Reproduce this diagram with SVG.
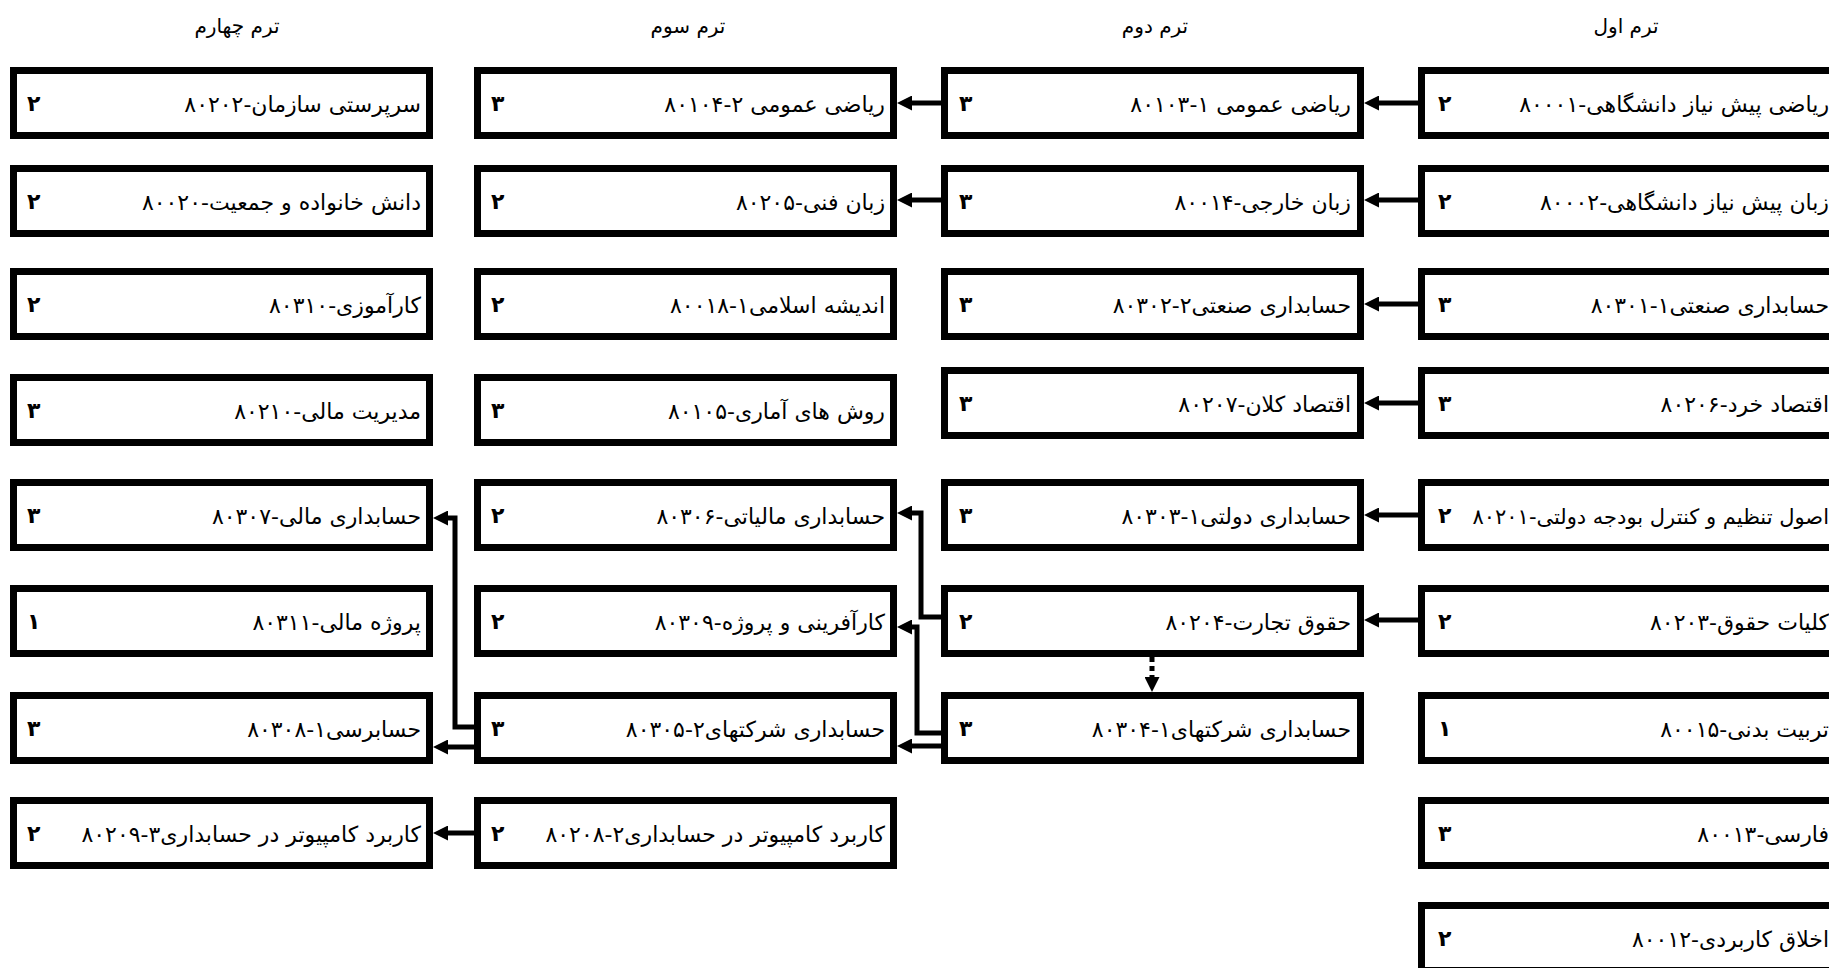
<svg xmlns="http://www.w3.org/2000/svg" width="1829" height="968" viewBox="0 0 1829 968">
<style>
.box{fill:#fff;stroke:#000;stroke-width:7}
.lbl{font-family:"DejaVu Sans",sans-serif;font-size:22px;text-anchor:end;fill:#000}
.cr{font-family:"DejaVu Sans",sans-serif;font-size:22px;font-weight:bold;fill:#000}
.hdr{font-family:"DejaVu Sans",sans-serif;font-size:20px;text-anchor:middle;fill:#000}
.conn{fill:none;stroke:#000;stroke-width:5;stroke-linejoin:miter}
.dot{stroke-dasharray:5 4}
</style>
<defs>
<marker id="arr" viewBox="0 0 15 15" refX="0" refY="7.5" markerWidth="15" markerHeight="15" markerUnits="userSpaceOnUse" orient="auto">
<path d="M0,0 L15,7.5 L0,15 z" fill="#000"/>
</marker>
</defs>
<rect width="1829" height="968" fill="#fff"/>
<g id="headers">
<text class="hdr" x="1626" y="33">ترم اول</text>
<text class="hdr" x="1155" y="33">ترم دوم</text>
<text class="hdr" x="688" y="33">ترم سوم</text>
<text class="hdr" x="237" y="33">ترم چهارم</text>
</g>
<g id="c1r1"><rect class="box" x="1421.5" y="70.5" width="416" height="65"/><text class="lbl" x="1829" y="112">ریاضی پیش نیاز دانشگاهی-۸۰۰۰۱</text><text class="cr" x="1438" y="111">۲</text></g>
<g id="c1r2"><rect class="box" x="1421.5" y="168.5" width="416" height="65"/><text class="lbl" x="1829" y="210">زبان پیش نیاز دانشگاهی-۸۰۰۰۲</text><text class="cr" x="1438" y="209">۲</text></g>
<g id="c1r3"><rect class="box" x="1421.5" y="271.5" width="416" height="65"/><text class="lbl" x="1829" y="313">حسابداری صنعتی۱&#x200F;-&#x200F;۸۰۳۰۱</text><text class="cr" x="1438" y="312">۳</text></g>
<g id="c1r4"><rect class="box" x="1421.5" y="370.5" width="416" height="65"/><text class="lbl" x="1829" y="412">اقتصاد خرد-۸۰۲۰۶</text><text class="cr" x="1438" y="411">۳</text></g>
<g id="c1r5"><rect class="box" x="1421.5" y="482.5" width="416" height="65"/><text class="lbl" x="1829" y="524" style="font-size:21px">اصول تنظیم و کنترل بودجه دولتی-۸۰۲۰۱</text><text class="cr" x="1438" y="523">۲</text></g>
<g id="c1r6"><rect class="box" x="1421.5" y="588.5" width="416" height="65"/><text class="lbl" x="1829" y="630">کلیات حقوق-۸۰۲۰۳</text><text class="cr" x="1438" y="629">۲</text></g>
<g id="c1r7"><rect class="box" x="1421.5" y="695.5" width="416" height="65"/><text class="lbl" x="1829" y="737">تربیت بدنی-۸۰۰۱۵</text><text class="cr" x="1438" y="736">۱</text></g>
<g id="c1r8"><rect class="box" x="1421.5" y="800.5" width="416" height="65"/><text class="lbl" x="1829" y="842">فارسی-۸۰۰۱۳</text><text class="cr" x="1438" y="841">۳</text></g>
<g id="c1r9"><rect class="box" x="1421.5" y="905.5" width="416" height="65"/><text class="lbl" x="1829" y="947">اخلاق کاربردی-۸۰۰۱۲</text><text class="cr" x="1438" y="946">۲</text></g>
<g id="c2r1"><rect class="box" x="944.5" y="70.5" width="416" height="65"/><text class="lbl" x="1351" y="112">ریاضی عمومی ۱&#x200F;-&#x200F;۸۰۱۰۳</text><text class="cr" x="959" y="111">۳</text></g>
<g id="c2r2"><rect class="box" x="944.5" y="168.5" width="416" height="65"/><text class="lbl" x="1351" y="210">زبان خارجی-۸۰۰۱۴</text><text class="cr" x="959" y="209">۳</text></g>
<g id="c2r3"><rect class="box" x="944.5" y="271.5" width="416" height="65"/><text class="lbl" x="1351" y="313">حسابداری صنعتی۲&#x200F;-&#x200F;۸۰۳۰۲</text><text class="cr" x="959" y="312">۳</text></g>
<g id="c2r4"><rect class="box" x="944.5" y="370.5" width="416" height="65"/><text class="lbl" x="1351" y="412">اقتصاد کلان-۸۰۲۰۷</text><text class="cr" x="959" y="411">۳</text></g>
<g id="c2r5"><rect class="box" x="944.5" y="482.5" width="416" height="65"/><text class="lbl" x="1351" y="524">حسابداری دولتی۱&#x200F;-&#x200F;۸۰۳۰۳</text><text class="cr" x="959" y="523">۳</text></g>
<g id="c2r6"><rect class="box" x="944.5" y="588.5" width="416" height="65"/><text class="lbl" x="1351" y="630">حقوق تجارت-۸۰۲۰۴</text><text class="cr" x="959" y="629">۲</text></g>
<g id="c2r7"><rect class="box" x="944.5" y="695.5" width="416" height="65"/><text class="lbl" x="1351" y="737">حسابداری شرکتهای۱&#x200F;-&#x200F;۸۰۳۰۴</text><text class="cr" x="959" y="736">۳</text></g>
<g id="c3r1"><rect class="box" x="477.5" y="70.5" width="416" height="65"/><text class="lbl" x="885" y="112">ریاضی عمومی ۲&#x200F;-&#x200F;۸۰۱۰۴</text><text class="cr" x="491" y="111">۳</text></g>
<g id="c3r2"><rect class="box" x="477.5" y="168.5" width="416" height="65"/><text class="lbl" x="885" y="210">زبان فنی-۸۰۲۰۵</text><text class="cr" x="491" y="209">۲</text></g>
<g id="c3r3"><rect class="box" x="477.5" y="271.5" width="416" height="65"/><text class="lbl" x="885" y="313">اندیشه اسلامی۱&#x200F;-&#x200F;۸۰۰۱۸</text><text class="cr" x="491" y="312">۲</text></g>
<g id="c3r4"><rect class="box" x="477.5" y="377.5" width="416" height="65"/><text class="lbl" x="885" y="419">روش های آماری-۸۰۱۰۵</text><text class="cr" x="491" y="418">۳</text></g>
<g id="c3r5"><rect class="box" x="477.5" y="482.5" width="416" height="65"/><text class="lbl" x="885" y="524">حسابداری مالیاتی-۸۰۳۰۶</text><text class="cr" x="491" y="523">۲</text></g>
<g id="c3r6"><rect class="box" x="477.5" y="588.5" width="416" height="65"/><text class="lbl" x="885" y="630">کارآفرینی و پروژه-۸۰۳۰۹</text><text class="cr" x="491" y="629">۲</text></g>
<g id="c3r7"><rect class="box" x="477.5" y="695.5" width="416" height="65"/><text class="lbl" x="885" y="737">حسابداری شرکتهای۲&#x200F;-&#x200F;۸۰۳۰۵</text><text class="cr" x="491" y="736">۳</text></g>
<g id="c3r8"><rect class="box" x="477.5" y="800.5" width="416" height="65"/><text class="lbl" x="885" y="842">کاربرد کامپیوتر در حسابداری۲&#x200F;-&#x200F;۸۰۲۰۸</text><text class="cr" x="491" y="841">۲</text></g>
<g id="c4r1"><rect class="box" x="13.5" y="70.5" width="416" height="65"/><text class="lbl" x="421" y="112">سرپرستی سازمان-۸۰۲۰۲</text><text class="cr" x="27" y="111">۲</text></g>
<g id="c4r2"><rect class="box" x="13.5" y="168.5" width="416" height="65"/><text class="lbl" x="421" y="210">دانش خانواده و جمعیت-۸۰۰۲۰</text><text class="cr" x="27" y="209">۲</text></g>
<g id="c4r3"><rect class="box" x="13.5" y="271.5" width="416" height="65"/><text class="lbl" x="421" y="313">کارآموزی-۸۰۳۱۰</text><text class="cr" x="27" y="312">۲</text></g>
<g id="c4r4"><rect class="box" x="13.5" y="377.5" width="416" height="65"/><text class="lbl" x="421" y="419">مدیریت مالی-۸۰۲۱۰</text><text class="cr" x="27" y="418">۳</text></g>
<g id="c4r5"><rect class="box" x="13.5" y="482.5" width="416" height="65"/><text class="lbl" x="421" y="524">حسابداری مالی-۸۰۳۰۷</text><text class="cr" x="27" y="523">۳</text></g>
<g id="c4r6"><rect class="box" x="13.5" y="588.5" width="416" height="65"/><text class="lbl" x="421" y="630">پروژه مالی-۸۰۳۱۱</text><text class="cr" x="27" y="629">۱</text></g>
<g id="c4r7"><rect class="box" x="13.5" y="695.5" width="416" height="65"/><text class="lbl" x="421" y="737">حسابرسی۱&#x200F;-&#x200F;۸۰۳۰۸</text><text class="cr" x="27" y="736">۳</text></g>
<g id="c4r8"><rect class="box" x="13.5" y="800.5" width="416" height="65"/><text class="lbl" x="421" y="842">کاربرد کامپیوتر در حسابداری۳&#x200F;-&#x200F;۸۰۲۰۹</text><text class="cr" x="27" y="841">۲</text></g>
<g id="connectors">
<path class="conn" marker-end="url(#arr)" d="M1418,103 H1379"/>
<path class="conn" marker-end="url(#arr)" d="M941,103 H912"/>
<path class="conn" marker-end="url(#arr)" d="M1418,200 H1379"/>
<path class="conn" marker-end="url(#arr)" d="M941,200 H912"/>
<path class="conn" marker-end="url(#arr)" d="M1418,304 H1379"/>
<path class="conn" marker-end="url(#arr)" d="M1418,403 H1379"/>
<path class="conn" marker-end="url(#arr)" d="M1418,515 H1379"/>
<path class="conn" marker-end="url(#arr)" d="M1418,620 H1379"/>
<path class="conn" marker-end="url(#arr)" d="M941,617 H921 V513 H912"/>
<path class="conn" marker-end="url(#arr)" d="M941,733 H917 V627 H912"/>
<path class="conn" marker-end="url(#arr)" d="M941,746 H912"/>
<path class="conn" marker-end="url(#arr)" d="M474,727 H455 V518 H448"/>
<path class="conn" marker-end="url(#arr)" d="M474,747 H448"/>
<path class="conn" marker-end="url(#arr)" d="M474,833 H448"/>
<path class="conn dot" marker-end="url(#arr)" d="M1152,657 V677"/>
</g>
</svg>
